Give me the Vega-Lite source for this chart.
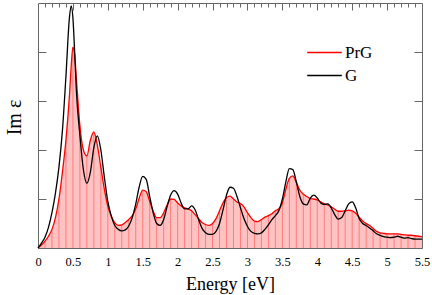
{
  "$schema": "https://vega.github.io/schema/vega-lite/v6.json",
  "width": 384,
  "height": 245,
  "autosize": {"type": "none"},
  "padding": {"left": 38, "top": 3, "right": 10, "bottom": 47},
  "config": {
    "font": "Liberation Serif",
    "view": {"stroke": "#666", "strokeWidth": 1},
    "axis": {"domain": false, "grid": false, "tickColor": "#666", "labelColor": "black", "titleColor": "black", "titleFontWeight": "normal", "labelFont": "Liberation Serif", "titleFont": "Liberation Serif"},
    "legend": {"labelFont": "Liberation Serif"}
  },
  "data": {"values": [
    {"E":0.00,"PrG":0.00,"G":0.00},{"E":0.05,"PrG":0.06,"G":0.10},{"E":0.10,"PrG":0.14,"G":0.22},{"E":0.15,"PrG":0.24,"G":0.42},
    {"E":0.20,"PrG":0.38,"G":0.72},{"E":0.25,"PrG":0.62,"G":1.12},{"E":0.30,"PrG":1.00,"G":1.65},{"E":0.35,"PrG":1.55,"G":2.40},
    {"E":0.40,"PrG":2.20,"G":3.50},{"E":0.45,"PrG":3.10,"G":4.70},{"E":0.475,"PrG":3.70,"G":4.94},{"E":0.50,"PrG":4.10,"G":4.70},
    {"E":0.525,"PrG":3.95,"G":4.00},{"E":0.55,"PrG":3.45,"G":3.20},{"E":0.60,"PrG":2.50,"G":2.30},{"E":0.65,"PrG":2.00,"G":1.60},
    {"E":0.70,"PrG":1.88,"G":1.32},{"E":0.75,"PrG":2.20,"G":1.55},{"E":0.80,"PrG":2.37,"G":2.05},{"E":0.85,"PrG":2.10,"G":2.29},
    {"E":0.90,"PrG":1.65,"G":2.00},{"E":0.95,"PrG":1.20,"G":1.45},{"E":1.00,"PrG":0.85,"G":0.95},{"E":1.05,"PrG":0.65,"G":0.65},
    {"E":1.10,"PrG":0.52,"G":0.46},{"E":1.15,"PrG":0.46,"G":0.38},{"E":1.20,"PrG":0.47,"G":0.35},{"E":1.25,"PrG":0.52,"G":0.37},
    {"E":1.30,"PrG":0.58,"G":0.45},{"E":1.35,"PrG":0.66,"G":0.62},{"E":1.40,"PrG":0.80,"G":0.90},{"E":1.45,"PrG":1.02,"G":1.25},
    {"E":1.50,"PrG":1.18,"G":1.46},{"E":1.55,"PrG":1.15,"G":1.40},{"E":1.60,"PrG":0.95,"G":1.05},{"E":1.65,"PrG":0.75,"G":0.72},
    {"E":1.70,"PrG":0.62,"G":0.50},{"E":1.75,"PrG":0.62,"G":0.46},{"E":1.80,"PrG":0.72,"G":0.58},{"E":1.85,"PrG":0.88,"G":0.85},
    {"E":1.90,"PrG":1.00,"G":1.08},{"E":1.95,"PrG":0.99,"G":1.17},{"E":2.00,"PrG":0.92,"G":1.10},{"E":2.05,"PrG":0.86,"G":0.92},
    {"E":2.10,"PrG":0.82,"G":0.80},{"E":2.15,"PrG":0.80,"G":0.80},{"E":2.20,"PrG":0.76,"G":0.86},{"E":2.25,"PrG":0.68,"G":0.78},
    {"E":2.30,"PrG":0.60,"G":0.58},{"E":2.35,"PrG":0.52,"G":0.40},{"E":2.40,"PrG":0.48,"G":0.31},{"E":2.45,"PrG":0.46,"G":0.28},
    {"E":2.50,"PrG":0.50,"G":0.28},{"E":2.55,"PrG":0.60,"G":0.34},{"E":2.60,"PrG":0.76,"G":0.50},{"E":2.65,"PrG":0.92,"G":0.78},
    {"E":2.70,"PrG":1.03,"G":1.08},{"E":2.75,"PrG":1.06,"G":1.24},{"E":2.80,"PrG":1.00,"G":1.22},{"E":2.85,"PrG":0.94,"G":1.05},
    {"E":2.90,"PrG":0.91,"G":0.82},{"E":2.95,"PrG":0.84,"G":0.60},{"E":3.00,"PrG":0.72,"G":0.44},{"E":3.05,"PrG":0.62,"G":0.34},
    {"E":3.10,"PrG":0.55,"G":0.30},{"E":3.15,"PrG":0.54,"G":0.29},{"E":3.20,"PrG":0.58,"G":0.31},{"E":3.25,"PrG":0.63,"G":0.38},
    {"E":3.30,"PrG":0.66,"G":0.47},{"E":3.35,"PrG":0.70,"G":0.58},{"E":3.40,"PrG":0.76,"G":0.66},{"E":3.45,"PrG":0.80,"G":0.76},
    {"E":3.50,"PrG":0.92,"G":1.00},{"E":3.55,"PrG":1.20,"G":1.35},{"E":3.60,"PrG":1.42,"G":1.62},{"E":3.65,"PrG":1.47,"G":1.60},
    {"E":3.70,"PrG":1.34,"G":1.35},{"E":3.75,"PrG":1.18,"G":1.05},{"E":3.80,"PrG":1.10,"G":0.90},{"E":3.85,"PrG":1.05,"G":0.88},
    {"E":3.90,"PrG":1.01,"G":1.02},{"E":3.95,"PrG":1.00,"G":1.08},{"E":4.00,"PrG":0.98,"G":1.02},{"E":4.05,"PrG":0.94,"G":0.92},
    {"E":4.10,"PrG":0.90,"G":0.89},{"E":4.15,"PrG":0.88,"G":0.90},{"E":4.20,"PrG":0.84,"G":0.82},{"E":4.25,"PrG":0.79,"G":0.68},
    {"E":4.30,"PrG":0.75,"G":0.59},{"E":4.35,"PrG":0.75,"G":0.62},{"E":4.40,"PrG":0.76,"G":0.76},{"E":4.45,"PrG":0.77,"G":0.90},
    {"E":4.50,"PrG":0.76,"G":0.94},{"E":4.55,"PrG":0.71,"G":0.82},{"E":4.60,"PrG":0.63,"G":0.60},{"E":4.65,"PrG":0.55,"G":0.50},
    {"E":4.70,"PrG":0.50,"G":0.46},{"E":4.75,"PrG":0.46,"G":0.41},{"E":4.80,"PrG":0.40,"G":0.35},{"E":4.85,"PrG":0.34,"G":0.29},
    {"E":4.90,"PrG":0.31,"G":0.26},{"E":4.95,"PrG":0.30,"G":0.23},{"E":5.00,"PrG":0.29,"G":0.22},{"E":5.05,"PrG":0.29,"G":0.21},
    {"E":5.10,"PrG":0.29,"G":0.22},{"E":5.15,"PrG":0.29,"G":0.24},{"E":5.20,"PrG":0.28,"G":0.22},{"E":5.25,"PrG":0.27,"G":0.20},
    {"E":5.30,"PrG":0.26,"G":0.21},{"E":5.35,"PrG":0.26,"G":0.19},{"E":5.40,"PrG":0.25,"G":0.18},{"E":5.45,"PrG":0.24,"G":0.18},
    {"E":5.50,"PrG":0.23,"G":0.18}
  ]},
  "resolve": {"axis": {"x": "independent", "y": "independent"}},
  "layer": [
    {
      "mark": {"type": "area", "interpolate": "monotone", "color": "#ffc2c2"},
      "encoding": {
        "x": {"field": "E", "type": "quantitative", "scale": {"domain": [0, 5.5], "nice": false},
          "axis": {"orient": "bottom", "title": "Energy [eV]", "titleFontSize": 18, "titlePadding": 5,
            "titleFont": "Liberation Serif", "titleFontWeight": "normal", "labelFont": "Liberation Serif",
            "values": [0,0.1,0.2,0.3,0.4,0.5,0.6,0.7,0.8,0.9,1,1.1,1.2,1.3,1.4,1.5,1.6,1.7,1.8,1.9,2,2.1,2.2,2.3,2.4,2.5,2.6,2.7,2.8,2.9,3,3.1,3.2,3.3,3.4,3.5,3.6,3.7,3.8,3.9,4,4.1,4.2,4.3,4.4,4.5,4.6,4.7,4.8,4.9,5,5.1,5.2,5.3,5.4,5.5],
            "labelExpr": "(round(datum.value*10) % 5 == 0) ? toString(round(datum.value*10)/10) : ''",
            "labelOverlap": false, "labelFlush": false, "labelFontSize": 12.5, "labelPadding": 14,
            "tickSize": {"condition": {"test": "round(datum.value*10) % 5 == 0", "value": -7}, "value": -4}}},
        "y": {"field": "PrG", "type": "quantitative", "scale": {"domain": [0, 5], "nice": false},
          "axis": {"orient": "left", "title": "Im ε", "titleFontSize": 20, "titlePadding": 13, "titleY": 114,
            "titleFont": "Liberation Serif", "titleFontWeight": "normal",
            "labels": false, "values": [1,2,3,4], "tickSize": -8}}
      }
    },
    {
      "transform": [{"filter": "abs(datum.E*10 - round(datum.E*10)) < 0.001 && datum.E > 0 && datum.E < 5.5"}],
      "mark": {"type": "rule", "color": "#ff6a6a", "strokeWidth": 0.8},
      "encoding": {
        "x": {"field": "E", "type": "quantitative", "axis": null},
        "y": {"field": "PrG", "type": "quantitative", "axis": null},
        "y2": {"datum": 0}
      }
    },
    {
      "transform": [{"fold": ["PrG", "G"], "as": ["series", "value"]}],
      "mark": {"type": "line", "interpolate": "monotone", "strokeWidth": 1.3},
      "encoding": {
        "x": {"field": "E", "type": "quantitative",
          "axis": {"orient": "top", "title": null, "labels": false,
            "values": [0.1,0.2,0.3,0.4,0.5,0.6,0.7,0.8,0.9,1,1.1,1.2,1.3,1.4,1.5,1.6,1.7,1.8,1.9,2,2.1,2.2,2.3,2.4,2.5,2.6,2.7,2.8,2.9,3,3.1,3.2,3.3,3.4,3.5,3.6,3.7,3.8,3.9,4,4.1,4.2,4.3,4.4,4.5,4.6,4.7,4.8,4.9,5,5.1,5.2,5.3,5.4],
            "tickSize": {"condition": {"test": "round(datum.value*10) % 5 == 0", "value": -7}, "value": -4}}},
        "y": {"field": "value", "type": "quantitative",
          "axis": {"orient": "right", "title": null, "labels": false, "values": [1,2,3,4], "tickSize": -8}},
        "color": {"field": "series", "type": "nominal",
          "scale": {"domain": ["PrG", "G"], "range": ["#ff0000", "#000000"]},
          "legend": {"orient": "none", "legendX": 277, "legendY": 40, "title": null, "symbolType": "M-2,0H2", "symbolSize": 300, "symbolStrokeWidth": 1.5, "symbolFillColor": "transparent", "labelFontSize": 17, "labelFont": "Liberation Serif", "labelOffset": 11, "rowPadding": 5}}
      }
    }
  ]
}
